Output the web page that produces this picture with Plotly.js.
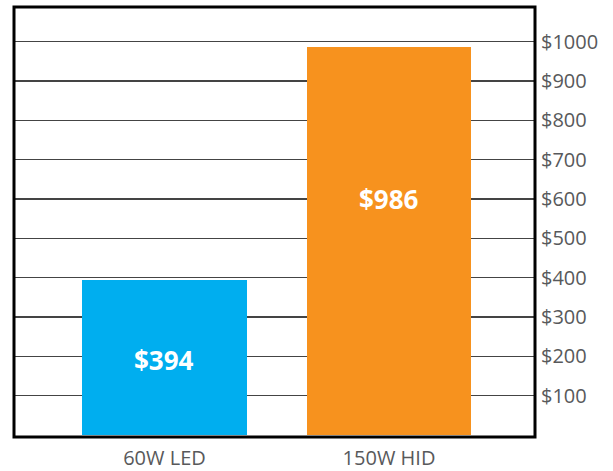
<!DOCTYPE html>
<html>
<head>
<meta charset="utf-8">
<script src="https://cdn.plot.ly/plotly-3.0.1.min.js"></script>
<style>html,body{margin:0;padding:0;background:#fff;}#chart{width:613px;height:471px;}</style>
</head>
<body>
<div id="chart"></div>
<script>
const categories = ["60W LED", "150W HID"];
const costs = [394, 986];
const costLabels = ["$394", "$986"];
const barColors = ["#00AEEF", "#F7921E"];
const tickValues = [100, 200, 300, 400, 500, 600, 700, 800, 900, 1000];
const tickLabels = ["$100", "$200", "$300", "$400", "$500", "$600", "$700", "$800", "$900", "$1000"];

const labelY = [190, 600];

const trace = {
  type: "bar",
  x: categories,
  y: costs,
  marker: {color: barColors, line: {width: 0}},
  width: 0.732,
  hoverinfo: "skip"
};

const annotations = categories.map((c, i) => ({
  x: c, y: labelY[i], xref: "x", yref: "y",
  text: costLabels[i], showarrow: false,
  font: {family: "Open Sans", size: 26, color: "#ffffff", weight: 700},
  xanchor: "center", yanchor: "middle"
}));

const layout = {
  width: 613, height: 471,
  margin: {l: 14, r: 78, t: 7, b: 34},
  paper_bgcolor: "#ffffff", plot_bgcolor: "#ffffff",
  showlegend: false,
  bargap: 0,
  xaxis: {
    type: "category",
    range: [-0.67, 1.65],
    showgrid: false, zeroline: false, showline: false,
    ticks: "",
    ticklabelstandoff: 7,
    tickfont: {family: "Open Sans", size: 20, color: "#58595B"},
    fixedrange: true
  },
  yaxis: {
    side: "right",
    range: [-5, 1088],
    tickmode: "array",
    tickvals: tickValues,
    ticktext: tickLabels,
    showgrid: true, gridcolor: "#444444", gridwidth: 1.5,
    zeroline: false, showline: false,
    ticks: "",
    ticklabelstandoff: 5,
    tickfont: {family: "Open Sans", size: 20, color: "#58595B"},
    fixedrange: true
  },
  annotations: annotations,
  shapes: [{
    type: "rect", xref: "paper", yref: "paper",
    x0: 0, x1: 1, y0: 0, y1: 1,
    line: {color: "#000000", width: 3},
    fillcolor: "rgba(0,0,0,0)",
    layer: "above"
  }]
};

Plotly.newPlot("chart", [trace], layout, {displayModeBar: false, staticPlot: true});
</script>
</body>
</html>
